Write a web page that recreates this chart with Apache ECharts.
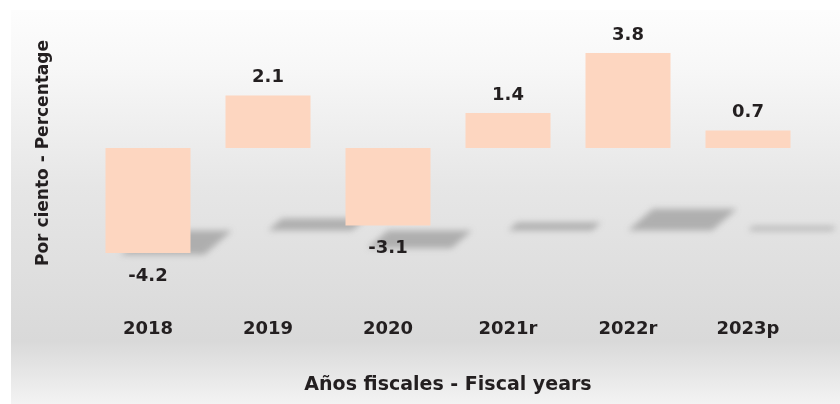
<!DOCTYPE html>
<html>
<head>
<meta charset="utf-8">
<script src="https://cdn.jsdelivr.net/npm/echarts@6/dist/echarts.min.js"></script>
<style>
  html, body { margin: 0; padding: 0; background: #fff; }
  #chart { width: 840px; height: 404px; }
</style>
</head>
<body>
<div id="chart"></div>
<script>
// datos del gráfico
const years = ['2018', '2019', '2020', '2021r', '2022r', '2023p'];
const values = [-4.2, 2.1, -3.1, 1.4, 3.8, 0.7];

const FONT = 'DejaVu Sans';
const TXT = '#231f20';
const FLOOR = -3.3; // nivel del "piso" donde caen las sombras
const SHIFT = 2000; // la forma se dibuja fuera y solo se ve su sombra difuminada

let chart = echarts.init(document.getElementById('chart'));

chart.setOption({
    animation: false,
    textStyle: { fontFamily: FONT },
    graphic: [
        {
            type: 'rect', z: -10, silent: true,
            shape: { x: 11, y: 10, width: 829, height: 394 },
            style: {
                fill: new echarts.graphic.LinearGradient(0, 0, 0, 1, [
                    { offset: 0, color: '#fdfdfd' },
                    { offset: 0.15, color: '#f7f7f7' },
                    { offset: 0.45, color: '#e6e6e6' },
                    { offset: 0.84, color: '#d9d9d9' },
                    { offset: 1, color: '#f3f3f3' }
                ])
            }
        },
        {
            type: 'text', x: 44, y: 153, rotation: Math.PI / 2,
            style: {
                text: 'Por ciento - Percentage',
                fontFamily: FONT, fontWeight: 'bold', fontSize: 17,
                fill: TXT, align: 'center', verticalAlign: 'middle'
            }
        }
    ],
    grid: { left: 88, right: 32, top: 23, bottom: 106 },
    xAxis: {
        type: 'category',
        data: years,
        position: 'bottom',
        axisLine: { show: false, onZero: false },
        axisTick: { show: false },
        axisLabel: {
            margin: 22, color: TXT, fontSize: 18, fontWeight: 'bold', fontFamily: FONT
        },
        name: 'Años fiscales - Fiscal years',
        nameLocation: 'middle',
        nameGap: 78,
        nameTextStyle: { color: TXT, fontSize: 19, fontWeight: 'bold', fontFamily: FONT }
    },
    yAxis: {
        type: 'value',
        min: -6,
        max: 5,
        show: false,
        splitLine: { show: false }
    },
    series: [
        {
            // sombras inclinadas bajo cada barra
            type: 'custom',
            z: 1,
            silent: true,
            clip: false,
            data: values.map((v, i) => [i, v]),
            renderItem: function (params, api) {
                let idx = api.value(0);
                let v = api.value(1);
                let zero = api.coord([idx, 0]);
                let top = api.coord([idx, v]);
                let floorY = api.coord([idx, FLOOR])[1];
                let w = 84;
                let h = 0.23 * (zero[1] - top[1]);
                let dx = 1.15 * h;
                let cx = zero[0] - SHIFT;
                return {
                    type: 'polygon',
                    shape: {
                        points: [
                            [cx, floorY],
                            [cx + w, floorY],
                            [cx + w + dx, floorY - h],
                            [cx + dx, floorY - h]
                        ]
                    },
                    style: {
                        fill: '#999',
                        shadowBlur: 6,
                        shadowOffsetX: SHIFT,
                        shadowColor: 'rgba(140,140,140,0.6)'
                    }
                };
            }
        },
        {
            type: 'bar',
            z: 2,
            barWidth: 85,
            data: values.map(v => ({
                value: v,
                label: { position: v < 0 ? 'bottom' : 'top', distance: v < 0 ? 14 : 9 }
            })),
            itemStyle: { color: '#fdd6c0' },
            label: {
                show: true,
                color: TXT,
                fontSize: 18,
                fontWeight: 'bold',
                fontFamily: FONT
            }
        }
    ]
});
</script>
</body>
</html>
